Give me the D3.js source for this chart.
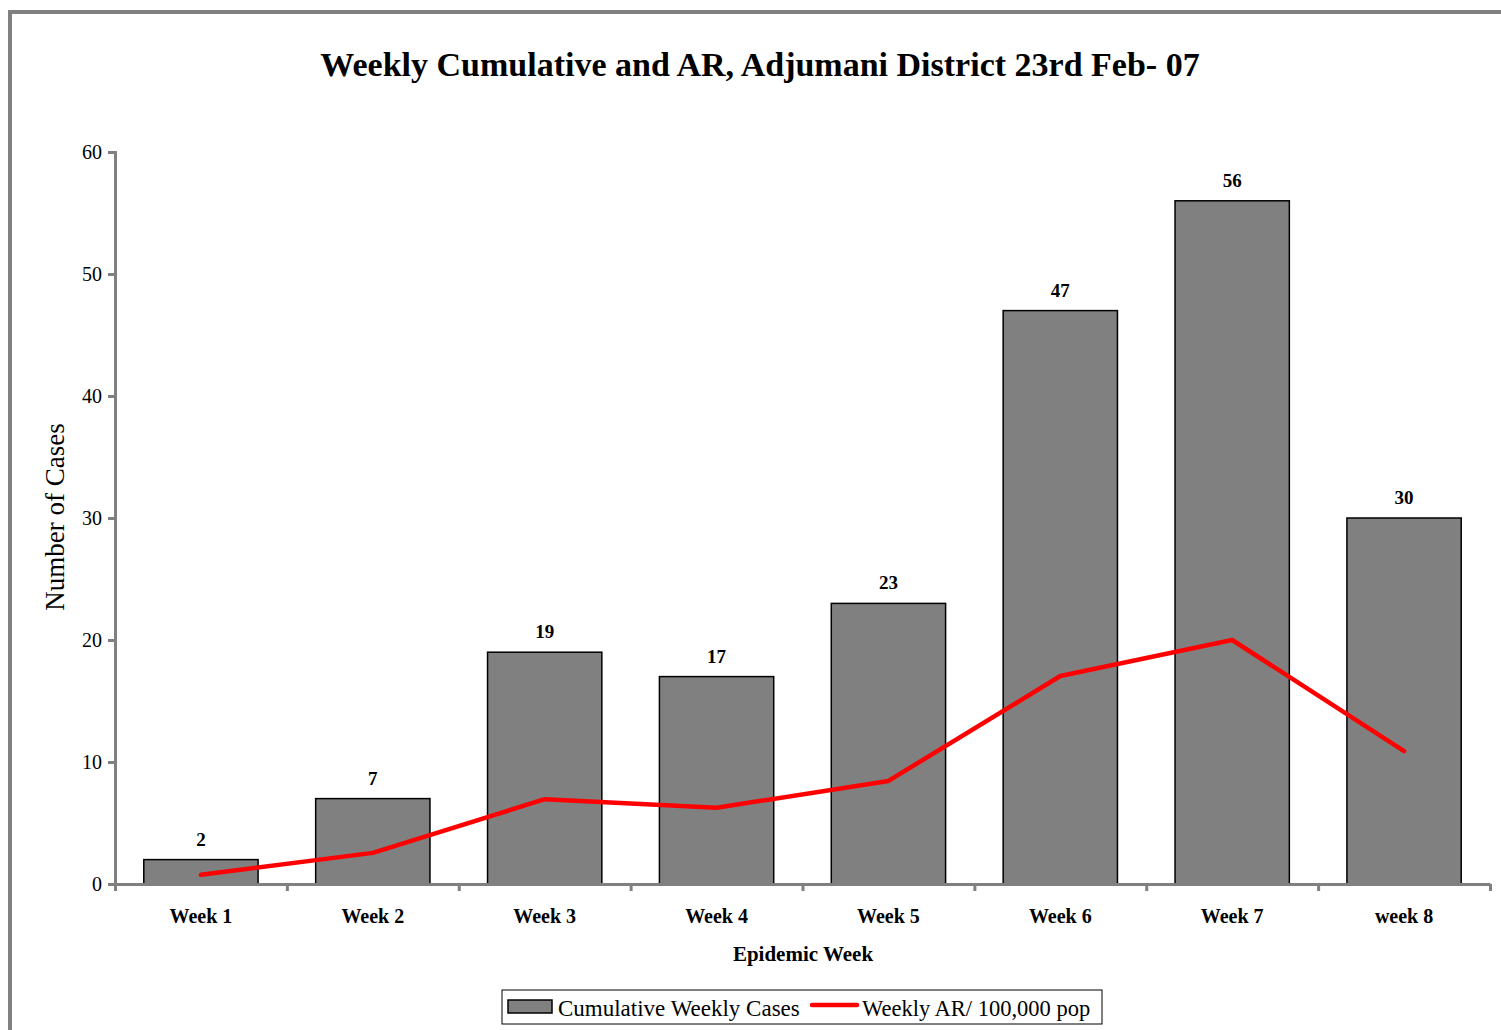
<!DOCTYPE html>
<html>
<head>
<meta charset="utf-8">
<script src="https://cdn.jsdelivr.net/npm/d3@7"></script>
<style>
  body { margin: 0; background: #fff; }
  svg { display: block; }
  text { font-family: "Liberation Serif", "DejaVu Serif", serif; fill: #000; }
</style>
</head>
<body>
<svg id="chart"></svg>
<script>
var width = 1501;
var height = 1030;

var weeks = ['Week 1', 'Week 2', 'Week 3', 'Week 4', 'Week 5', 'Week 6', 'Week 7', 'week 8'];
var cases = [2, 7, 19, 17, 23, 47, 56, 30];
var attackRate = [0.75, 2.55, 6.95, 6.25, 8.45, 17.05, 20.0, 10.9];
var yTicks = [0, 10, 20, 30, 40, 50, 60];

var plotLeft = 115, plotRight = 1490, plotTop = 152, plotBottom = 884;

var svg = d3.select('#chart')
  .attr('width', width)
  .attr('height', height);

// outer frame (only top/left edges visible)
svg.append('rect')
  .attr('x', 10).attr('y', 12)
  .attr('width', 1600).attr('height', 1100)
  .attr('fill', 'none')
  .attr('stroke', '#808080')
  .attr('stroke-width', 4);

var xScale = d3.scaleBand()
  .domain(weeks)
  .range([plotLeft, plotRight])
  .paddingInner(0.335)
  .paddingOuter(0.1675);

var yScale = d3.scaleLinear()
  .domain([0, 60])
  .range([plotBottom, plotTop]);

// bars
svg.selectAll('rect.bar')
  .data(cases)
  .enter()
  .append('rect')
    .attr('class', 'bar')
    .attr('x', (d, i) => xScale(weeks[i]))
    .attr('y', d => yScale(d))
    .attr('width', xScale.bandwidth())
    .attr('height', d => yScale(0) - yScale(d))
    .attr('fill', '#808080')
    .attr('stroke', '#000')
    .attr('stroke-width', 1.5);

// value labels
svg.selectAll('text.val')
  .data(cases)
  .enter()
  .append('text')
    .attr('class', 'val')
    .attr('x', (d, i) => xScale(weeks[i]) + xScale.bandwidth() / 2)
    .attr('y', d => yScale(d) - 14)
    .attr('text-anchor', 'middle')
    .style('font-size', '19px')
    .style('font-weight', 'bold')
    .text(d => d);

// y axis
var yAxis = svg.append('g')
  .attr('transform', `translate(${plotLeft}, 0)`)
  .call(d3.axisLeft(yScale)
    .tickValues(yTicks)
    .tickSize(7)
    .tickSizeOuter(7)
    .tickPadding(6));

// x axis with ticks at category boundaries
var xEdge = d3.scaleLinear().domain([0, weeks.length]).range([plotLeft, plotRight]);
var xAxis = svg.append('g')
  .attr('transform', `translate(0, ${plotBottom})`)
  .call(d3.axisBottom(xEdge)
    .tickValues(d3.range(0, weeks.length + 1))
    .tickSize(7)
    .tickSizeOuter(0)
    .tickFormat(''));

[yAxis, xAxis].forEach(function(ax){
  ax.select('.domain').attr('stroke', '#808080').attr('stroke-width', 3);
  ax.selectAll('.tick line').attr('stroke', '#808080').attr('stroke-width', 3);
});
yAxis.selectAll('.tick text')
  .style('font-size', '20px')
  .style('font-family', '"Liberation Serif", serif');

// category labels
svg.selectAll('text.cat')
  .data(weeks)
  .enter()
  .append('text')
    .attr('class', 'cat')
    .attr('x', d => xScale(d) + xScale.bandwidth() / 2)
    .attr('y', 923)
    .attr('text-anchor', 'middle')
    .style('font-size', '20px')
    .style('font-weight', 'bold')
    .text(d => d);

// AR line
var line = d3.line()
  .x((d, i) => xScale(weeks[i]) + xScale.bandwidth() / 2)
  .y(d => yScale(d));

svg.append('path')
  .datum(attackRate)
  .attr('fill', 'none')
  .attr('stroke', '#ff0000')
  .attr('stroke-width', 4.5)
  .attr('stroke-linejoin', 'round')
  .attr('stroke-linecap', 'round')
  .attr('d', line);

// title
svg.append('text')
  .attr('x', 760)
  .attr('y', 76)
  .attr('text-anchor', 'middle')
  .style('font-size', '34px')
  .style('font-weight', 'bold')
  .text('Weekly Cumulative and AR, Adjumani District 23rd Feb- 07');

// axis labels
svg.append('text')
  .attr('x', 803)
  .attr('y', 961)
  .attr('text-anchor', 'middle')
  .style('font-size', '21px')
  .style('font-weight', 'bold')
  .text('Epidemic Week');

svg.append('text')
  .attr('transform', 'rotate(-90)')
  .attr('x', -517)
  .attr('y', 64)
  .attr('text-anchor', 'middle')
  .style('font-size', '27px')
  .text('Number of Cases');

// legend
var legend = svg.append('g');
legend.append('rect')
  .attr('x', 502).attr('y', 990)
  .attr('width', 600).attr('height', 34)
  .attr('fill', '#fff')
  .attr('stroke', '#000')
  .attr('stroke-width', 1);
legend.append('rect')
  .attr('x', 508).attr('y', 1000)
  .attr('width', 44).attr('height', 13)
  .attr('fill', '#808080')
  .attr('stroke', '#000')
  .attr('stroke-width', 1.5);
legend.append('text')
  .attr('x', 558).attr('y', 1016)
  .style('font-size', '23px')
  .text('Cumulative Weekly Cases');
legend.append('line')
  .attr('x1', 812).attr('x2', 857)
  .attr('y1', 1005).attr('y2', 1005)
  .attr('stroke', '#ff0000')
  .attr('stroke-width', 4.5)
  .attr('stroke-linecap', 'round');
legend.append('text')
  .attr('x', 862).attr('y', 1016)
  .style('font-size', '22.5px')
  .text('Weekly AR/ 100,000 pop');
</script>
</body>
</html>
